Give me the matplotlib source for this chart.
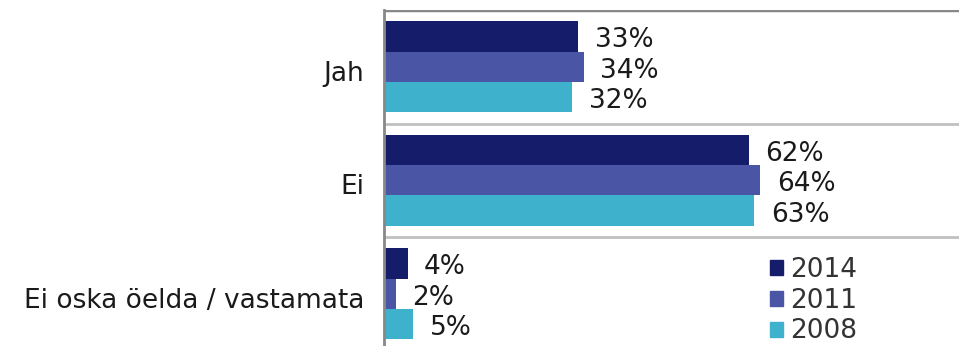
import numpy as np
import matplotlib.pyplot as plt
from matplotlib.patches import Patch

categories = ["Jah", "Ei", "Ei oska öelda / vastamata"]
years = ["2014", "2011", "2008"]
values_2014 = [33, 62, 4]
values_2011 = [34, 64, 2]
values_2008 = [32, 63, 5]
colors = ["#151c6a", "#4a55a6", "#3eb1cd"]

plt.rcParams['font.family'] = ['DejaVu Sans']

fig = plt.figure(figsize=(9.59, 3.46), dpi=100)
ax = fig.add_axes([384 / 959, -4.5 / 346, 1 - 384 / 959, 340.5 / 346])

y = np.arange(len(categories))
h = 0.267
series = [values_2014, values_2011, values_2008]
for i, (vals, col) in enumerate(zip(series, colors)):
    pos = y + (i - 1) * h
    ax.barh(pos, vals, height=h, color=col, label=years[i])
    for p, v in zip(pos, vals):
        ax.text(v + 2.8, p + 0.035, f"{v}%", va="center", ha="left", fontsize=19, color="#1a1a1a")

ax.set_xlim(0, 575 / 5.88)
ax.set_ylim(2.5, -0.5)
# labels sit slightly below the band centre
ax.set_yticks(y + 0.035)
ax.set_yticklabels(categories, fontsize=19, color="#1a1a1a")
ax.tick_params(axis="y", length=0, pad=14)
ax.set_xticks([])

for b in [0.5, 1.5]:
    ax.axhline(b, color="#c0c0c0", lw=2)
ax.axhline(-0.5, color="#888888", lw=2.5)

for s in ["right", "bottom", "top"]:
    ax.spines[s].set_visible(False)
ax.spines["left"].set_color("#888888")
ax.spines["left"].set_linewidth(2)

handles = [Patch(color=c, label=l) for c, l in zip(colors, years)]
fig.legend(handles=handles, loc="upper left", bbox_to_anchor=(770 / 959, 1 - 257 / 346),
           frameon=False, fontsize=19, handlelength=0.5, handleheight=0.5,
           handletextpad=0.27, labelspacing=0.18, borderpad=0, borderaxespad=0,
           labelcolor="#333333")

fig.savefig("out.png", dpi=100)
